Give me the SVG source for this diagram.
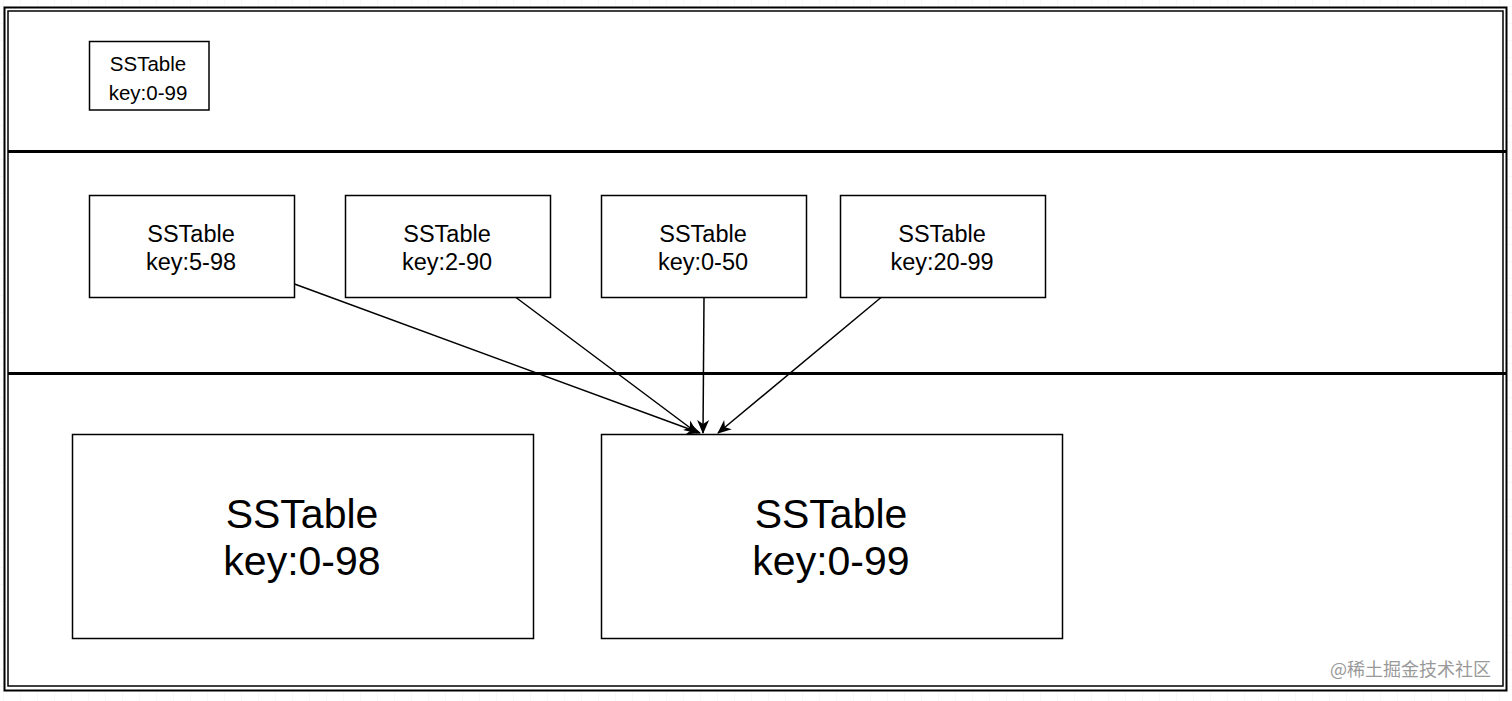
<svg xmlns="http://www.w3.org/2000/svg" width="1512" height="701" viewBox="0 0 1512 701">
<defs>
<pattern id="grid" width="17" height="17" patternUnits="userSpaceOnUse" x="4" y="7">
<path d="M17 0V17H0" fill="none" stroke="#f0f0f0" stroke-width="1"/>
</pattern>
<marker id="arr" markerWidth="16" markerHeight="14" refX="13" refY="7" orient="auto" markerUnits="userSpaceOnUse">
<path d="M0 1 L14 7 L0 13 L4 7 Z" fill="#000"/>
</marker>
<style>
.box{fill:#fff;stroke:#000;stroke-width:1.5}
.s{font-family:"Liberation Sans",Arial,sans-serif;font-size:20.5px;fill:#000;text-anchor:middle}
.t{font-family:"Liberation Sans",Arial,sans-serif;font-size:23.5px;fill:#000;text-anchor:middle}
.b{font-family:"Liberation Sans",Arial,sans-serif;font-size:41px;fill:#000;text-anchor:middle}
.ln{stroke:#000;stroke-width:1.5;fill:none;marker-end:url(#arr)}
</style>
</defs>
<rect width="1512" height="701" fill="#fff"/>
<rect width="1512" height="701" fill="url(#grid)"/>
<g id="frame">
<rect x="4.5" y="7.5" width="1502" height="683" fill="#fff" stroke="#000" stroke-width="2"/>
<rect x="8" y="11" width="1495" height="675" fill="#fff" stroke="#000" stroke-width="1.5"/>
<line x1="8" y1="151.5" x2="1506" y2="151.5" stroke="#000" stroke-width="3"/>
<line x1="8" y1="373.5" x2="1506" y2="373.5" stroke="#000" stroke-width="3"/>
</g>
<g id="top">
<rect class="box" x="89.5" y="41.5" width="119.5" height="68.5"/>
<text class="s" x="148" y="71">SSTable</text>
<text class="s" x="148" y="100">key:0-99</text>
</g>
<g id="n1">
<rect class="box" x="89.5" y="195.5" width="205" height="102"/>
<text class="t" x="191" y="242">SSTable</text>
<text class="t" x="191" y="270">key:5-98</text>
</g>
<g id="n2">
<rect class="box" x="345.5" y="195.5" width="205" height="102"/>
<text class="t" x="447" y="242">SSTable</text>
<text class="t" x="447" y="270">key:2-90</text>
</g>
<g id="n3">
<rect class="box" x="601.5" y="195.5" width="205" height="102"/>
<text class="t" x="703" y="242">SSTable</text>
<text class="t" x="703" y="270">key:0-50</text>
</g>
<g id="n4">
<rect class="box" x="840.5" y="195.5" width="205" height="102"/>
<text class="t" x="942" y="242">SSTable</text>
<text class="t" x="942" y="270">key:20-99</text>
</g>
<g id="big1">
<rect class="box" x="72.5" y="434.5" width="461" height="204"/>
<text class="b" x="302" y="528">SSTable</text>
<text class="b" x="302" y="575">key:0-98</text>
</g>
<g id="big2">
<rect class="box" x="601.5" y="434.5" width="461" height="204"/>
<text class="b" x="831" y="528">SSTable</text>
<text class="b" x="831" y="575">key:0-99</text>
</g>
<g id="connectors">
<line class="ln" x1="294.5" y1="284" x2="700" y2="433"/>
<line class="ln" x1="516" y1="297.5" x2="697" y2="433"/>
<line class="ln" x1="704" y1="297.5" x2="703" y2="433"/>
<line class="ln" x1="881" y1="297.5" x2="718" y2="433"/>
</g>
<text x="1491" y="676" font-family="'Noto Sans CJK SC',sans-serif" font-size="18" fill="#999" text-anchor="end">@稀土掘金技术社区</text>
</svg>
